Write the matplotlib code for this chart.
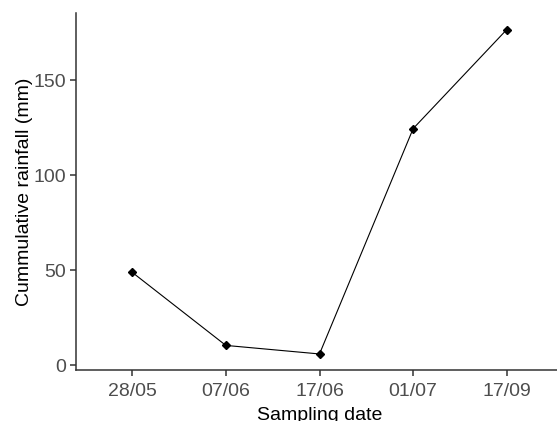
import matplotlib
matplotlib.use("Agg")
from matplotlib import pyplot as plt

# data
dates = ["28/05", "07/06", "17/06", "01/07", "17/09"]
rainfall = [48.9, 10.4, 5.9, 124.6, 176.8]

plt.rcParams['font.family'] = ['Liberation Sans', 'DejaVu Sans']

fig = plt.figure(figsize=(5.57, 4.21), dpi=100)
ax = fig.add_axes([76/557, 51/421, 487/557, 357/421])

pos = range(len(dates))
ax.plot(pos, rainfall, color="black", lw=0.8)
ax.plot(pos, rainfall, ls="none", marker="D", ms=4.5, color="black")

ax.set_xlim(-0.6, len(dates) - 0.4)
ax.set_ylim(-2.55, 185.5)
ax.set_xticks(list(pos))
ax.set_xticklabels(dates)
ax.set_yticks([0, 50, 100, 150])

for s in ["top", "right"]:
    ax.spines[s].set_visible(False)
for s in ["left", "bottom"]:
    ax.spines[s].set_color("#333333")
    ax.spines[s].set_linewidth(1.1)

ax.tick_params(axis="both", colors="#333333", length=4, width=1.1,
               labelsize=14, labelcolor="#4d4d4d", pad=3)
ax.tick_params(axis="x", pad=5.2)

ax.set_xlabel("Sampling date", fontsize=14, labelpad=5)
ax.set_ylabel("Cummulative rainfall (mm)", fontsize=14, labelpad=0.8)

fig.savefig("out.png", dpi=100)
